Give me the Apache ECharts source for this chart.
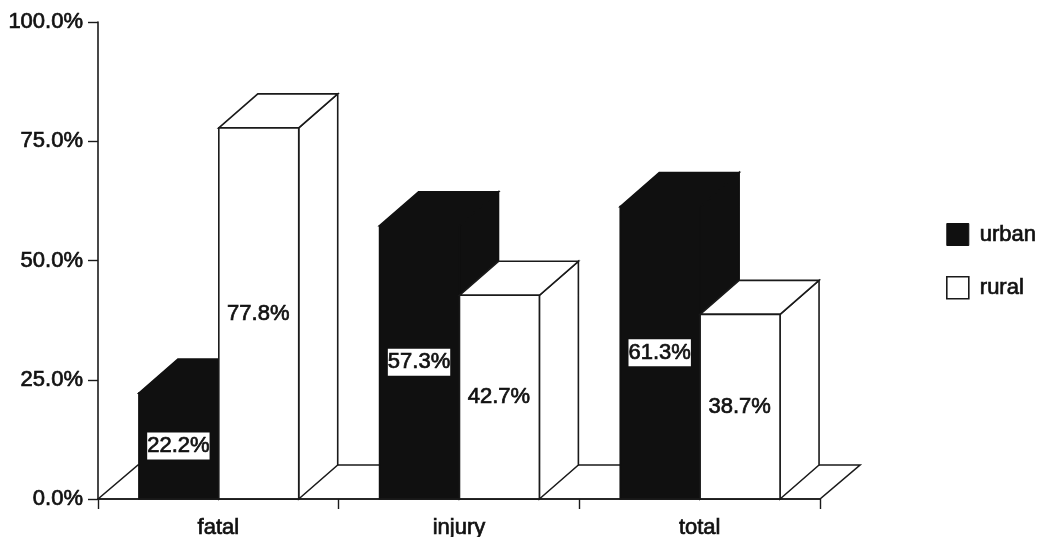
<!DOCTYPE html>
<html>
<head>
<meta charset="utf-8">
<script src="https://cdn.jsdelivr.net/npm/echarts@6/dist/echarts.min.js"></script>
<style>html,body{margin:0;padding:0;background:#fff}#chart{width:1042px;height:537px}</style>
</head>
<body>
<div id="chart"></div>
<script>
// Share of crashes by area type, drawn as extruded columns on a floor.
const categories = ['fatal', 'injury', 'total'];
const urban = [22.2, 57.3, 61.3];
const rural = [77.8, 42.7, 38.7];
const yTicks = { min: 0, max: 100, interval: 25 };

const INK = '#1a1a1a';
const BLACK = '#101010';
const FONT = '"Liberation Sans", Arial, sans-serif';
const FONT_SIZE = 22;
const WEIGHT = 0.7;
const DEPTH_X = 39, DEPTH_Y = -34;
const GAP = 0.17, BAR = 0.332;

const textStyle = {
  fontFamily: FONT, fontSize: FONT_SIZE, color: '#111',
  textBorderColor: '#111', textBorderWidth: WEIGHT
};

function poly(points, fill, stroke) {
  return {
    type: 'polygon',
    shape: { points },
    style: { fill, stroke, lineWidth: 1.6, lineJoin: 'miter' }
  };
}

// One column: side face, top face, front face, then its value label.
function columnRenderer(slot, fill) {
  return function (params, api) {
    const i = api.value(0), v = api.value(1);
    const base = api.coord([i, 0]);
    const top = api.coord([i, v]);
    const mid = api.coord([i, v / 2]);
    const band = api.size([1, 0])[0];
    const x0 = base[0] - band / 2 + band * (GAP + slot * BAR);
    const x1 = x0 + band * BAR;
    const y0 = base[1], y1 = top[1];
    const dx = DEPTH_X, dy = DEPTH_Y;
    const stroke = fill === '#ffffff' ? INK : BLACK;
    return {
      type: 'group',
      children: [
        poly([[x1, y0], [x1 + dx, y0 + dy], [x1 + dx, y1 + dy], [x1, y1]], fill, stroke),
        poly([[x0, y1], [x0 + dx, y1 + dy], [x1 + dx, y1 + dy], [x1, y1]], fill, stroke),
        poly([[x0, y0], [x0, y1], [x1, y1], [x1, y0]], fill, stroke),
        {
          type: 'text',
          z2: 10,
          style: {
            text: v.toFixed(1) + '%',
            x: (x0 + x1) / 2 - 0.5,
            y: mid[1],
            align: 'center',
            verticalAlign: 'middle',
            font: FONT_SIZE + 'px ' + FONT,
            fill: '#111',
            stroke: '#111',
            lineWidth: WEIGHT,
            backgroundColor: '#fff',
            padding: [3, 0, 2, 0]
          }
        }
      ]
    };
  };
}

// Floor parallelogram under all three groups.
function floorRenderer(params, api) {
  const g = params.coordSys;
  const yb = g.y + g.height;
  return poly([
    [g.x, yb],
    [g.x + 40, yb + DEPTH_Y],
    [g.x + g.width + 40, yb + DEPTH_Y],
    [g.x + g.width, yb]
  ], '#ffffff', INK);
}

const chart = echarts.init(document.getElementById('chart'), null, { renderer: 'canvas' });
chart.setOption({
  animation: false,
  backgroundColor: '#ffffff',
  grid: { left: 98, top: 22, width: 722, height: 477, outerBoundsMode: 'none' },
  xAxis: {
    type: 'category',
    data: categories,
    z: 10,
    axisLine: { lineStyle: { color: INK, width: 1.6 } },
    axisTick: { show: true, alignWithLabel: false, length: 10, lineStyle: { color: INK, width: 1.4 } },
    axisLabel: Object.assign({ margin: 18 }, textStyle)
  },
  yAxis: {
    type: 'value',
    z: 10,
    min: yTicks.min, max: yTicks.max, interval: yTicks.interval,
    splitLine: { show: false },
    axisLine: { show: true, lineStyle: { color: INK, width: 1.6 } },
    axisTick: { show: true, length: 10, lineStyle: { color: INK, width: 1.4 } },
    axisLabel: Object.assign({ margin: 15, formatter: v => v.toFixed(1) + '%' }, textStyle)
  },
  legend: {
    orient: 'vertical',
    left: 946, top: 223, padding: 0,
    itemWidth: 22, itemHeight: 22, itemGap: 30,
    icon: 'rect',
    textStyle: Object.assign({}, textStyle, { padding: [0, 0, 0, 6] }),
    data: [
      { name: 'urban', itemStyle: { color: BLACK, borderColor: BLACK, borderWidth: 1 } },
      { name: 'rural', itemStyle: { color: '#ffffff', borderColor: INK, borderWidth: 1.6 } }
    ]
  },
  series: [
    {
      name: 'floor', type: 'custom', z: 1, silent: true,
      coordinateSystem: 'cartesian2d',
      renderItem: floorRenderer,
      encode: { x: 0, y: 1 },
      data: [[0, 0]]
    },
    {
      name: 'urban', type: 'custom', z: 2, silent: true,
      renderItem: columnRenderer(0, BLACK),
      encode: { x: 0, y: 1 },
      itemStyle: { color: BLACK },
      data: urban.map((v, i) => [i, v])
    },
    {
      name: 'rural', type: 'custom', z: 3, silent: true,
      renderItem: columnRenderer(1, '#ffffff'),
      encode: { x: 0, y: 1 },
      itemStyle: { color: '#ffffff' },
      data: rural.map((v, i) => [i, v])
    }
  ]
});
</script>
</body>
</html>
